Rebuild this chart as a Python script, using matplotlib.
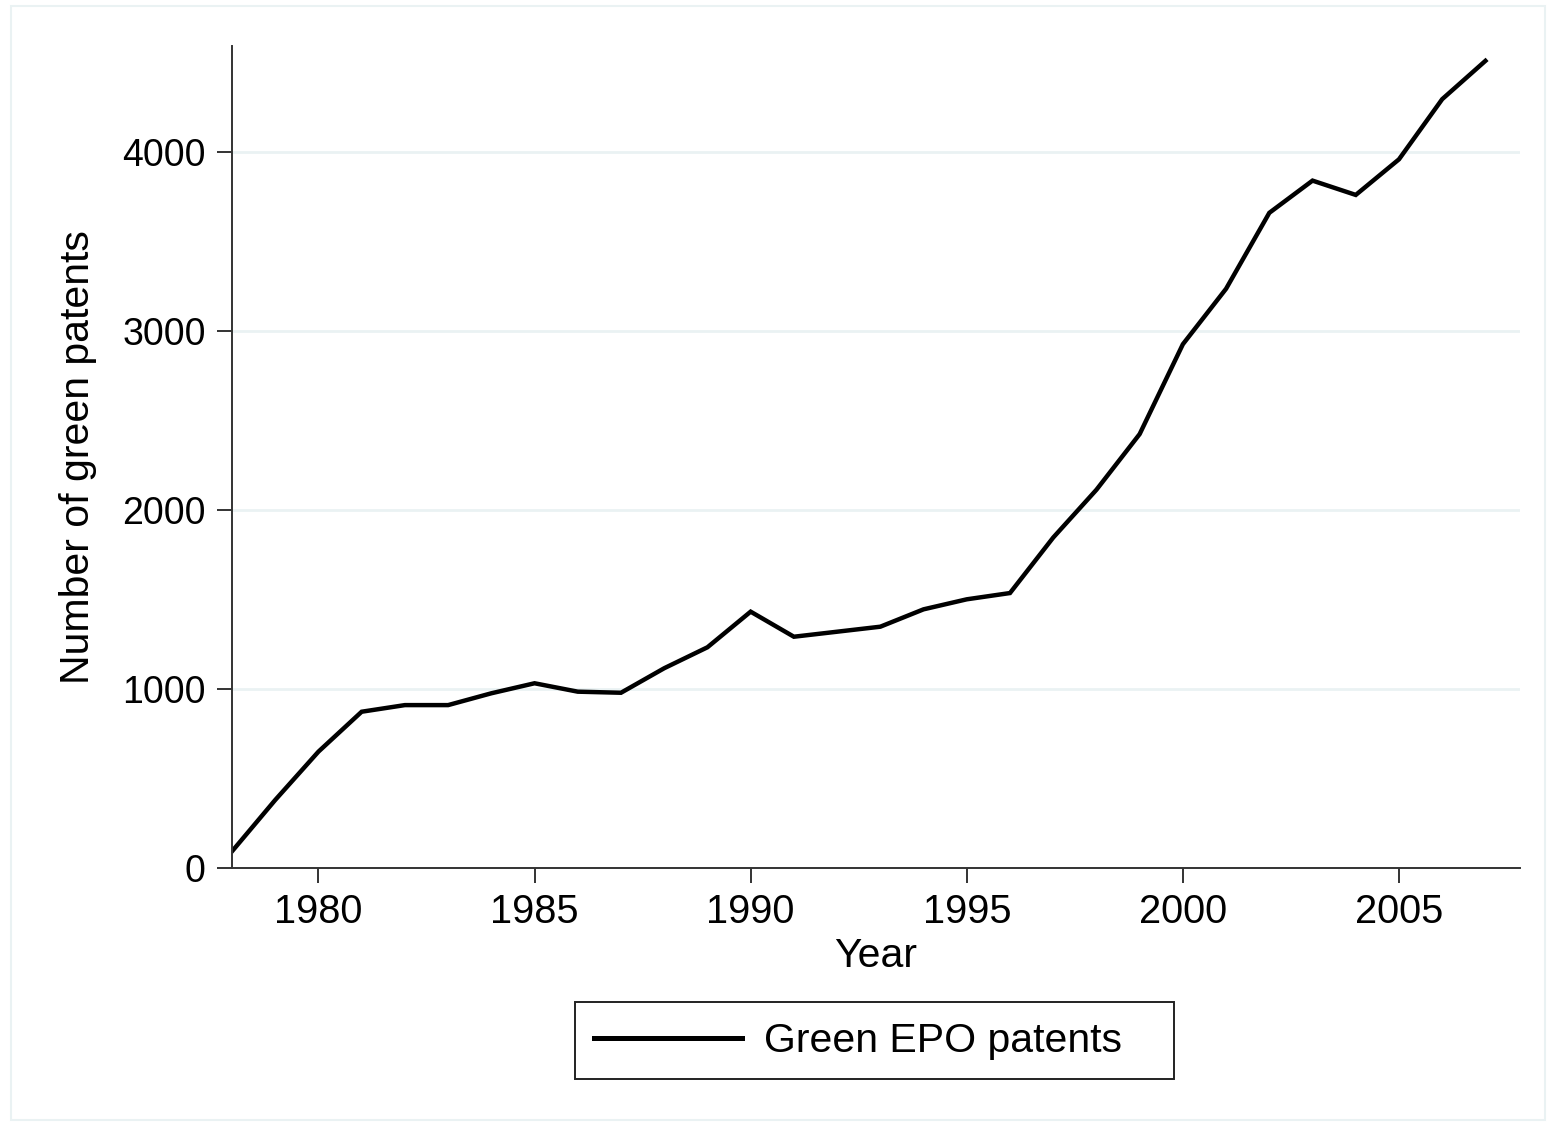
import matplotlib.pyplot as plt
from matplotlib.patches import Rectangle

years = list(range(1978, 2008))
patents = [93, 380, 650, 873, 910, 910, 976, 1032, 985, 979,
           1116, 1233, 1432, 1292, 1320, 1348, 1445, 1501, 1536, 1846,
           2113, 2424, 2926, 3236, 3660, 3840, 3760, 3959, 4295, 4509]

xticks = [1980, 1985, 1990, 1995, 2000, 2005]
yticks = [0, 1000, 2000, 3000, 4000]

plt.rcParams['font.family'] = ['Liberation Sans', 'DejaVu Sans']
fs = 29.5
axcol = '#333333'
gridcol = '#eaf2f3'
W, H = 1551, 1126

fig = plt.figure(figsize=(W/100, H/100), dpi=100)
ax = fig.add_axes([232/W, 1-868/H, (1520-232)/W, (868-46)/H])

# light outer frame of the graph region
fig.patches.append(Rectangle((11/W, 6/H), (1545-11)/W, (1120-6)/H,
                             transform=fig.transFigure, fill=False,
                             edgecolor=gridcol, lw=1.5))

for y in yticks[1:]:
    ax.axhline(y, color=gridcol, lw=2, zorder=0)

line, = ax.plot(years, patents, color='black', lw=3.2, solid_joinstyle='miter',
                label='Green EPO patents')

ax.set_xlim(1978, 2007.8)
ax.set_ylim(0, 4592)
ax.set_xticks(xticks)
ax.set_yticks(yticks)
ax.tick_params(length=11, width=1.4, color=axcol, pad=8)
ax.tick_params(axis='x', labelsize=28.6, pad=7)
ax.tick_params(axis='y', labelsize=27)
for s in ['top', 'right']:
    ax.spines[s].set_visible(False)
for s in ['left', 'bottom']:
    ax.spines[s].set_color(axcol)
    ax.spines[s].set_linewidth(1.4)

ax.set_xlabel('Year', fontsize=fs, labelpad=4)
ax.set_ylabel('Number of green patents', fontsize=fs, labelpad=18)

# legend box (Stata style: extra space on the right)
fig.patches.append(Rectangle((575/W, 1-1079/H), (1174-575)/W, (1079-1002)/H,
                             transform=fig.transFigure, fill=False,
                             edgecolor='#222222', lw=1.4))
leg = fig.legend(handles=[line], loc='center left', bbox_to_anchor=(594/W, 1-1041/H),
                 fontsize=fs, frameon=False, handlelength=3.6,
                 handletextpad=0.56, borderpad=0, borderaxespad=0)
leg.get_lines()[0].set_linewidth(3.6)

fig.savefig('out.png', dpi=100)
